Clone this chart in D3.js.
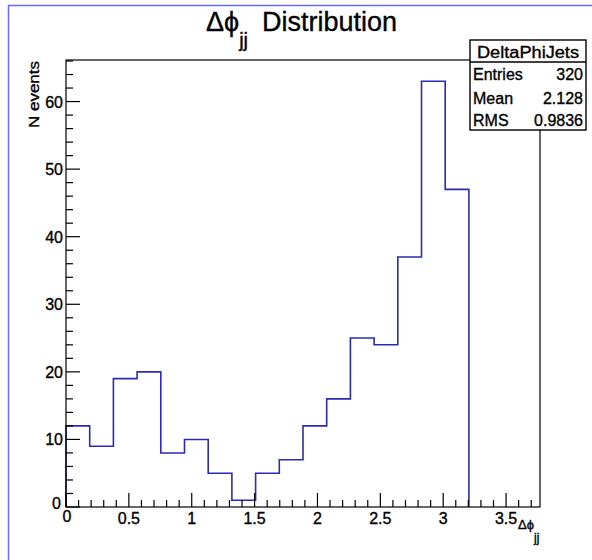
<!DOCTYPE html>
<html>
<head>
<meta charset="utf-8">
<script src="https://cdn.jsdelivr.net/npm/d3@7"></script>
<style>
  body { margin: 0; background: #fff; }
  svg { display: block; font-family: "Liberation Sans", Arial, sans-serif; }
  .txt { fill: #000; stroke: #000; stroke-width: 0.35px; }
</style>
</head>
<body>
<svg id="chart" width="592" height="560"></svg>
<script>
const width = 592;
const height = 560;

// histogram: 20 bins over [0, 1.2*pi]
const nBins = 20;
const xMax = 1.2 * Math.PI;
const binCounts = [12, 9, 19, 20, 8, 10, 5, 1, 5, 7, 12, 16, 25, 24, 37, 63, 47, 0, 0, 0];
const xTicks = [0, 0.5, 1, 1.5, 2, 2.5, 3, 3.5];
const yTicks = [0, 10, 20, 30, 40, 50, 60];
const statsLabels = ['Entries', 'Mean', 'RMS'];
const statsValues = ['320', '2.128', '0.9836'];

const frame = { left: 66, right: 540, top: 60, bottom: 507 };

const svg = d3.select('#chart');

// pad border
svg.append('rect')
    .attr('x', 8.5).attr('y', 5.5)
    .attr('width', width).attr('height', height)
    .attr('fill', 'none')
    .attr('stroke', '#6a6aff')
    .attr('stroke-width', 1.5);

const x = d3.scaleLinear().domain([0, xMax]).range([frame.left, frame.right]);
const yMaxVal = d3.max(binCounts) * 1.05;
const y = d3.scaleLinear().domain([0, yMaxVal]).range([frame.bottom, frame.top]);

// histogram outline
const binW = xMax / nBins;
let lastNonZero = 0;
binCounts.forEach((c, i) => { if (c > 0) lastNonZero = i; });
const pts = [[x(0), y(0)]];
for (let i = 0; i <= lastNonZero; i++) {
    pts.push([x(i * binW), y(binCounts[i])]);
    pts.push([x((i + 1) * binW), y(binCounts[i])]);
}
pts.push([x((lastNonZero + 1) * binW), y(0)]);

svg.append('path')
    .attr('d', d3.line()(pts))
    .attr('fill', 'none')
    .attr('stroke', '#2b2bb5')
    .attr('stroke-width', 1.6);

// frame
svg.append('rect')
    .attr('x', frame.left).attr('y', frame.top)
    .attr('width', frame.right - frame.left)
    .attr('height', frame.bottom - frame.top)
    .attr('fill', 'none')
    .attr('stroke', '#000')
    .attr('stroke-width', 1.2);

// x axis ticks
const xMinor = d3.range(0, xMax, 0.1).filter(v => Math.abs(v * 2 - Math.round(v * 2)) > 1e-6);
const xAxis = svg.append('g').attr('transform', `translate(0,${frame.bottom})`);
xAxis.selectAll('line.major').data(xTicks).join('line')
    .attr('x1', d => x(d)).attr('x2', d => x(d))
    .attr('y1', 0).attr('y2', -14)
    .attr('stroke', '#000').attr('stroke-width', 1.2);
xAxis.selectAll('line.minor').data(xMinor).join('line')
    .attr('x1', d => x(d)).attr('x2', d => x(d))
    .attr('y1', 0).attr('y2', -7)
    .attr('stroke', '#000').attr('stroke-width', 1.2);
xAxis.selectAll('text').data(xTicks).join('text')
    .attr('class', 'txt')
    .attr('x', d => d === 0 ? x(d) + 1 : x(d))
    .attr('y', d => d === 0 ? 15 : 17)
    .attr('text-anchor', 'middle')
    .attr('font-size', 16)
    .text(d => d);

// y axis ticks
const yMinor = d3.range(0, yMaxVal, 2).filter(v => v % 10 !== 0);
const yAxis = svg.append('g').attr('transform', `translate(${frame.left},0)`);
yAxis.selectAll('line.major').data(yTicks).join('line')
    .attr('y1', d => y(d)).attr('y2', d => y(d))
    .attr('x1', 0).attr('x2', 14)
    .attr('stroke', '#000').attr('stroke-width', 1.2);
yAxis.selectAll('line.minor').data(yMinor).join('line')
    .attr('y1', d => y(d)).attr('y2', d => y(d))
    .attr('x1', 0).attr('x2', 7)
    .attr('stroke', '#000').attr('stroke-width', 1.2);
yAxis.selectAll('text').data(yTicks).join('text')
    .attr('class', 'txt')
    .attr('x', d => d === 0 ? -5 : -3)
    .attr('y', d => d === 0 ? y(d) + 2 : y(d) + 6)
    .attr('text-anchor', 'end')
    .attr('font-size', 16)
    .text(d => d);

// axis titles
svg.append('text')
    .attr('class', 'txt')
    .attr('transform', `translate(39,${frame.top + 1}) rotate(-90)`)
    .attr('text-anchor', 'end')
    .attr('font-size', 15)
    .attr('textLength', 67)
    .attr('lengthAdjust', 'spacingAndGlyphs')
    .text('N events');

const xTitle = svg.append('text')
    .attr('class', 'txt')
    .attr('x', 518).attr('y', 529)
    .attr('font-size', 13);
xTitle.append('tspan').text('Δϕ');
xTitle.append('tspan').attr('dy', 13).attr('font-size', 12).text('jj');

// main title
const title = svg.append('text')
    .attr('class', 'txt')
    .attr('x', 206).attr('y', 31)
    .attr('font-size', 27);
title.append('tspan').text('Δϕ');
title.append('tspan').attr('dy', 16).attr('font-size', 20).text('jj');
title.append('tspan').attr('x', 262).attr('y', 31).text('Distribution');

// stats box
const box = { left: 470, right: 586, top: 40, bottom: 130, sep: 62 };
svg.append('rect')
    .attr('x', box.left).attr('y', box.top)
    .attr('width', box.right - box.left).attr('height', box.bottom - box.top)
    .attr('fill', '#fff').attr('stroke', '#000').attr('stroke-width', 1.4);
svg.append('line')
    .attr('x1', box.left).attr('x2', box.right)
    .attr('y1', box.sep).attr('y2', box.sep)
    .attr('stroke', '#000').attr('stroke-width', 1.4);
svg.append('text')
    .attr('class', 'txt')
    .attr('x', 477).attr('y', 58)
    .attr('font-size', 16)
    .attr('textLength', 102)
    .attr('lengthAdjust', 'spacingAndGlyphs')
    .text('DeltaPhiJets');
const rowY = [80, 104, 126];
svg.selectAll('text.slabel').data(statsLabels).join('text')
    .attr('class', 'slabel txt')
    .attr('x', box.left + 3).attr('y', (d, i) => rowY[i])
    .attr('font-size', 16)
    .text(d => d);
svg.selectAll('text.svalue').data(statsValues).join('text')
    .attr('class', 'svalue txt')
    .attr('x', box.right - 3).attr('y', (d, i) => rowY[i])
    .attr('text-anchor', 'end')
    .attr('font-size', 16)
    .text(d => d);
</script>
</body>
</html>
